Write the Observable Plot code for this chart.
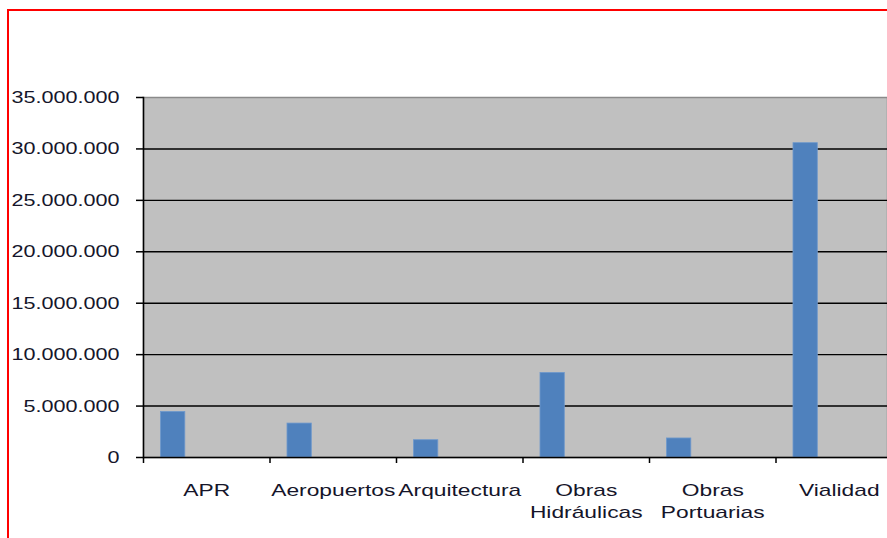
<!DOCTYPE html>
<html>
<head>
<meta charset="utf-8">
<script src="https://cdn.jsdelivr.net/npm/d3@7"></script>
<script src="https://cdn.jsdelivr.net/npm/@observablehq/plot@0.6"></script>
<style>
  html, body { margin: 0; padding: 0; background: white; }
  #wrap { position: relative; width: 887px; height: 538px; overflow: hidden; }
  #border { position: absolute; left: 7px; top: 9px; width: 2000px; height: 2000px;
            border-top: 2.5px solid #ff0000; border-left: 2.5px solid #ff0000; pointer-events: none; }
</style>
</head>
<body>
<div id="wrap"><div id="border"></div></div>
<script>
const categories = ["APR", "Aeropuertos", "Arquitectura", "Obras Hidráulicas", "Obras Portuarias", "Vialidad"];
const values = [4430000, 3300000, 1680000, 8220000, 1850000, 30560000];
const tickLabels = ["APR", "Aeropuertos", "Arquitectura", "Obras\nHidráulicas", "Obras\nPortuarias", "Vialidad"];
const yTicks = [0, 5000000, 10000000, 15000000, 20000000, 25000000, 30000000, 35000000];
const gridTicks = [5000000, 10000000, 15000000, 20000000, 25000000, 30000000];

const data = categories.map((c, i) => ({category: c, value: values[i]}));
const labelOf = new Map(categories.map((c, i) => [c, tickLabels[i]]));
const fmt = d3.formatLocale({decimal: ",", thousands: ".", grouping: [3], currency: ["", ""]}).format(",");

const bandStep = 126.5;
const yStretch = 1.27;
const xStretch = 1.34;

const chart = Plot.plot({
  width: 887,
  height: 538,
  marginTop: 97,
  marginBottom: 81,
  marginLeft: 143,
  marginRight: 0,
  style: {fontFamily: "'Liberation Sans', Arial, sans-serif", fontSize: "17px", color: "#111", background: "transparent"},
  x: {domain: categories, range: [143, 143 + 6 * bandStep], padding: 0, round: false},
  y: {domain: [0, 35000000], ticks: yTicks},
  marks: [
    Plot.frame({fill: "#c0c0c0", stroke: "#8a8a8a", strokeWidth: 1.5}),
    Plot.ruleY(gridTicks, {stroke: "#000", strokeWidth: 1.4}),
    Plot.barY(data, {x: "category", y: "value", fill: "#4f81bd", stroke: "#6e98cc", strokeWidth: 0.8,
                     insetLeft: 17.5, insetRight: bandStep - 17.5 - 24.3}),
    Plot.ruleY([0], {stroke: "#000", strokeWidth: 1.5}),
    Plot.ruleX(categories, {x: d => d, dx: -bandStep / 2, y1: 0, y2: 0, insetBottom: -6, stroke: "#000", strokeWidth: 1.5}),
    Plot.frame({anchor: "left", stroke: "#000", strokeWidth: 1.5}),
    Plot.axisY({ticks: yTicks, tickSize: 7, tickPadding: 17, tickFormat: fmt, label: null,
                stroke: "#000", strokeWidth: 1.5, fill: "#15152a", ariaLabel: "y-axis"}),
    Plot.axisX({tickSize: 0, tickPadding: 23, tickFormat: d => labelOf.get(d), label: null,
                lineHeight: 1.3, fill: "#15152a", ariaLabel: "x-axis"})
  ]
});
document.getElementById("wrap").prepend(chart);
// widen text glyphs (the source chart's text is horizontally stretched)
chart.querySelectorAll("text").forEach(t => {
  const isX = t.closest("[aria-label^='x-axis']") !== null;
  const k = isX ? xStretch : yStretch;
  const spans = t.querySelectorAll("tspan");
  const targets = spans.length ? Array.from(spans) : [t];
  targets.forEach(el => {
    const len = el.getComputedTextLength();
    if (len > 0) {
      el.setAttribute("textLength", (len * k).toFixed(2));
      el.setAttribute("lengthAdjust", "spacingAndGlyphs");
    }
  });
});
</script>
</body>
</html>
